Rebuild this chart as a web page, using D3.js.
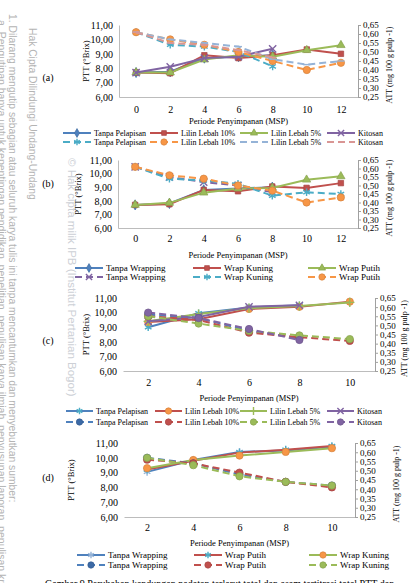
<!DOCTYPE html>
<html><head><meta charset="utf-8">
<script src="https://cdn.jsdelivr.net/npm/d3@7"></script>
<style>body{margin:0;background:#fff} svg{display:block}</style>
</head><body><svg id="c" width="411" height="583"></svg>
<script>
// ---------------- DATA ----------------
const catsA = [0, 2, 4, 6, 8, 10, 12];
const catsB = [0, 2, 4, 6, 8, 10, 12];
const catsC = [2, 4, 6, 8, 10];
const catsD = [2, 4, 6, 8, 10];
const leftTicks = [6, 7, 8, 9, 10, 11];
const rightTicks = [0.25, 0.30, 0.35, 0.40, 0.45, 0.50, 0.55, 0.60, 0.65];
const namesCoating = ["Tanpa Pelapisan", "Lilin Lebah 10%", "Lilin Lebah 5%", "Kitosan"];
const namesWrapB = ["Tanpa Wrapping", "Wrap Kuning", "Wrap Putih"];
const namesWrapD = ["Tanpa Wrapping", "Wrap Putih", "Wrap Kuning"];
const panelLabels = ["(a)", "(b)", "(c)", "(d)"];
const xTitle = "Periode Penyimpanan (MSP)";
const yTitleLeft = "PTT (°Brix)";
const yTitleRight = "ATT (mg 100 g pulp -1)";

// (a) PTT (left axis) and ATT (right axis)
const pttA_tanpa   = [7.7, 7.75, 8.7, 8.8, 8.9, null, null];
const pttA_lilin10 = [7.7, 7.65, 8.9, 8.7, 8.9, 9.3, 9.0];
const pttA_lilin5  = [7.7, 7.7, 8.6, 8.9, 8.8, 9.25, 9.6];
const pttA_kitosan = [7.7, 8.1, 8.7, 8.8, 9.35, null, null];
const attA_tanpa   = [0.61, 0.54, 0.53, 0.50, 0.42, null, null];
const attA_lilin10 = [0.61, 0.57, 0.54, 0.50, 0.45, 0.40, 0.44];
const attA_lilin5  = [0.61, 0.57, 0.55, 0.53, 0.46, 0.43, 0.45];
const attA_kitosan = [0.61, 0.55, 0.54, 0.51, 0.47, null, null];

// (b)
const pttB_tanpa  = [7.7, 7.8, 8.8, 8.9, 9.0, null, null];
const pttB_kuning = [7.7, 7.75, 8.8, 8.7, 9.05, 8.95, 9.3];
const pttB_putih  = [7.7, 7.85, 8.6, 8.9, 8.95, 9.55, 9.8];
const attB_tanpa  = [0.61, 0.55, 0.52, 0.50, 0.46, null, null];
const attB_kuning = [0.61, 0.54, 0.53, 0.51, 0.44, 0.46, 0.45];
const attB_putih  = [0.61, 0.56, 0.54, 0.50, 0.47, 0.40, 0.43];

// (c)
const pttC_tanpa   = [9.0, 9.95, 10.35, 10.5, null];
const pttC_lilin10 = [9.35, 9.55, 10.25, 10.4, 10.75];
const pttC_lilin5  = [9.4, 9.9, 10.3, 10.45, 10.7];
const pttC_kitosan = [9.4, 9.7, 10.4, 10.5, null];
const attC_tanpa   = [0.56, 0.54, 0.47, 0.43, null];
const attC_lilin10 = [0.55, 0.53, 0.46, 0.435, 0.415];
const attC_lilin5  = [0.55, 0.51, 0.47, 0.445, 0.425];
const attC_kitosan = [0.57, 0.54, 0.48, 0.42, null];

// (d)
const pttD_tanpa  = [9.05, 9.85, 10.4, 10.5, 10.75];
const pttD_putih  = [9.2, 9.8, 10.35, 10.55, 10.8];
const pttD_kuning = [9.3, 9.85, 10.15, 10.4, 10.65];
const attD_tanpa  = [0.57, 0.54, 0.48, 0.44, 0.42];
const attD_putih  = [0.56, 0.54, 0.49, 0.44, 0.41];
const attD_kuning = [0.57, 0.53, 0.47, 0.44, 0.42];

// ---------------- STYLE ----------------
const C = {blue:"#4F81BD", red:"#C0504D", green:"#9BBB59", purple:"#8064A2",
           teal:"#4BACC6", orange:"#F79646", lblue:"#95B3D7", pink:"#D99694", dblue:"#3C6AA6"};
const SERIF = "'Liberation Serif','Times New Roman',serif";
const fmt = d => d3.format(".2f")(d).replace(".", ",");

const panels = [
  {label: panelLabels[0], labelX: 48, labelY: 77, cats: catsA,
   left: 119, right: 358, top: 25, bottom: 97, rTop: 25, leftLine: true, rFont: 9,
   xLabY: 109, titleY: 121, yTitleX: 86, rTitleX: 390, legY: [133, 142], legX: [63, 150, 240, 327], legFont: 8, lineLen: 28,
   series: [
    {name: namesCoating[0], v: pttA_tanpa, ax: "L", color: C.blue, mk: "diamond", mc: C.blue},
    {name: namesCoating[1], v: pttA_lilin10, ax: "L", color: C.red, mk: "square", mc: C.red},
    {name: namesCoating[2], v: pttA_lilin5, ax: "L", color: C.green, mk: "triangle", mc: C.green},
    {name: namesCoating[3], v: pttA_kitosan, ax: "L", color: C.purple, mk: "x", mc: C.purple},
    {name: namesCoating[0], v: attA_tanpa, ax: "R", color: C.teal, mk: "star", mc: C.teal, dash: true},
    {name: namesCoating[1], v: attA_lilin10, ax: "R", color: C.orange, mk: "circle", mc: C.orange, dash: true},
    {name: namesCoating[2], v: attA_lilin5, ax: "R", color: C.lblue, mk: "dash", mc: C.lblue, dash: true},
    {name: namesCoating[3], v: attA_kitosan, ax: "R", color: C.pink, mk: "dash", mc: C.pink, dash: true}
   ]},
  {label: panelLabels[1], labelX: 48, labelY: 183, cats: catsB,
   left: 118, right: 358, top: 160, bottom: 228, rTop: 160, leftLine: true, rFont: 9,
   xLabY: 238, titleY: 255, yTitleX: 78, rTitleX: 390, legY: [268, 277], legX: [75, 193, 308], legFont: 9, lineLen: 28,
   series: [
    {name: namesWrapB[0], v: pttB_tanpa, ax: "L", color: C.blue, mk: "diamond", mc: C.blue},
    {name: namesWrapB[1], v: pttB_kuning, ax: "L", color: C.red, mk: "square", mc: C.red},
    {name: namesWrapB[2], v: pttB_putih, ax: "L", color: C.green, mk: "triangle", mc: C.green},
    {name: namesWrapB[0], v: attB_tanpa, ax: "R", color: C.purple, mk: "x", mc: C.purple, dash: true},
    {name: namesWrapB[1], v: attB_kuning, ax: "R", color: C.teal, mk: "star", mc: C.teal, dash: true},
    {name: namesWrapB[2], v: attB_putih, ax: "R", color: C.orange, mk: "circle", mc: C.orange, dash: true}
   ]},
  {label: panelLabels[2], labelX: 48, labelY: 340, cats: catsC,
   left: 123, right: 375, top: 298, bottom: 371, rTop: 298, leftLine: false, rFont: 9,
   xLabY: 382, titleY: 398, yTitleX: 86, rTitleX: 405, legY: [411, 422], legX: [66, 155, 240, 327], legFont: 8, lineLen: 27,
   series: [
    {name: namesCoating[0], v: pttC_tanpa, ax: "L", color: C.blue, mk: "star", mc: C.teal},
    {name: namesCoating[1], v: pttC_lilin10, ax: "L", color: C.red, mk: "circle", mc: C.orange},
    {name: namesCoating[2], v: pttC_lilin5, ax: "L", color: C.green, mk: "plus", mc: C.green},
    {name: namesCoating[3], v: pttC_kitosan, ax: "L", color: C.purple, mk: "x", mc: C.purple},
    {name: namesCoating[0], v: attC_tanpa, ax: "R", color: C.blue, mk: "circle", mc: C.dblue, dash: true},
    {name: namesCoating[1], v: attC_lilin10, ax: "R", color: C.red, mk: "circle", mc: C.red, dash: true},
    {name: namesCoating[2], v: attC_lilin5, ax: "R", color: C.green, mk: "circle", mc: C.green, dash: true},
    {name: namesCoating[3], v: attC_kitosan, ax: "R", color: C.purple, mk: "circle", mc: C.purple, dash: true}
   ]},
  {label: panelLabels[3], labelX: 48, labelY: 477, cats: catsD,
   left: 124, right: 355, top: 443, bottom: 517, rTop: 443, leftLine: false, rFont: 9,
   xLabY: 527, titleY: 543, yTitleX: 71, rTitleX: 397, legY: [555, 565], legX: [77, 194, 309], legFont: 9, lineLen: 28,
   series: [
    {name: namesWrapD[0], v: pttD_tanpa, ax: "L", color: C.blue, mk: "star", mc: C.lblue},
    {name: namesWrapD[1], v: pttD_putih, ax: "L", color: C.red, mk: "star", mc: C.teal},
    {name: namesWrapD[2], v: pttD_kuning, ax: "L", color: C.green, mk: "circle", mc: C.orange},
    {name: namesWrapD[0], v: attD_tanpa, ax: "R", color: C.blue, mk: "circle", mc: C.dblue, dash: true},
    {name: namesWrapD[1], v: attD_putih, ax: "R", color: C.red, mk: "circle", mc: C.red, dash: true},
    {name: namesWrapD[2], v: attD_kuning, ax: "R", color: C.green, mk: "circle", mc: C.green, dash: true}
   ]}
];

const svg = d3.select("#c");
svg.append("rect").attr("width", 411).attr("height", 583).attr("fill", "#fff");

// ---------------- WATERMARK ----------------
const wm = svg.append("g").attr("font-family", "'Liberation Sans',Arial,sans-serif").attr("fill", "#b4b4b4");
wm.append("text").attr("transform", "translate(-2,20) rotate(90)").attr("font-size", 10.5)
  .text("a. Pengutipan hanya untuk kepentingan pendidikan, penelitian, penulisan karya ilmiah, penyusunan laporan, penulisan kritik");
wm.append("text").attr("transform", "translate(9,14) rotate(90)").attr("font-size", 10.3)
  .text("1. Dilarang mengutip sebagian atau seluruh karya tulis ini tanpa mencantumkan dan menyebutkan sumber:");
wm.append("text").attr("transform", "translate(29,28) rotate(90)").attr("font-size", 10.3)
  .text("Hak Cipta Dilindungi Undang-Undang");
wm.append("text").attr("transform", "translate(68,158) rotate(90)").attr("font-size", 11.5).attr("fill", "#cdd0d6")
  .text("© Hak cipta milik IPB (Institut Pertanian Bogor)");

// ---------------- MARKERS ----------------
function markerPath(type, k) {
  const s = d3.symbol();
  switch (type) {
    case "diamond": return s.type(d3.symbolDiamond).size(30 * k)();
    case "square": return s.type(d3.symbolSquare).size(30 * k)();
    case "triangle": return s.type(d3.symbolTriangle).size(30 * k)();
    case "circle": return s.type(d3.symbolCircle).size(42 * k)();
    case "x": return s.type(d3.symbolX).size(36 * k)();
    case "star": return s.type(d3.symbolAsterisk).size(40 * k)();
    case "plus": return s.type(d3.symbolPlus).size(30 * k)();
    case "dash": return `M${-3.5 * Math.sqrt(k)},0H${3.5 * Math.sqrt(k)}`;
  }
}
const strokeMarkers = new Set(["x", "star", "plus", "dash"]);
function drawMarker(g, type, color, cx, cy, k = 1) {
  const p = g.append("path").attr("d", markerPath(type, k)).attr("transform", `translate(${cx},${cy})`);
  if (strokeMarkers.has(type)) p.attr("fill", "none").attr("stroke", color).attr("stroke-width", 1.4);
  else p.attr("fill", color).attr("stroke", d3.color(color).darker(0.4)).attr("stroke-width", 0.7);
}

// ---------------- PANELS ----------------
panels.forEach(P => {
  const g = svg.append("g").attr("font-family", SERIF).attr("fill", "#000");
  const x = d3.scalePoint().domain(P.cats).range([P.left, P.right]).padding(0.5);
  const yL = d3.scaleLinear().domain([6, 11]).range([P.bottom, P.top]);
  const yR = d3.scaleLinear().domain([0.25, 0.65]).range([P.bottom, P.rTop]);

  // bottom axis
  const xa = g.append("g").attr("transform", `translate(0,${P.bottom})`)
    .call(d3.axisBottom(x).tickSize(0));
  xa.select(".domain").attr("stroke", "#bcbcbc").attr("stroke-width", 1);
  xa.selectAll("text").attr("y", P.xLabY - P.bottom).attr("dy", "0.35em")
    .attr("font-family", SERIF).attr("font-size", 10).attr("fill", "#000");

  // left axis
  const la = g.append("g").attr("transform", `translate(${P.left},0)`)
    .call(d3.axisLeft(yL).tickValues(leftTicks).tickFormat(fmt).tickSize(0).tickPadding(6));
  if (P.leftLine) la.select(".domain").attr("stroke", "#bcbcbc");
  else la.select(".domain").remove();
  la.selectAll("text").attr("font-family", SERIF).attr("font-size", 10).attr("fill", "#000");

  // right axis
  const ra = g.append("g").attr("transform", `translate(${P.right},0)`)
    .call(d3.axisRight(yR).tickValues(rightTicks).tickFormat(fmt).tickSize(3).tickPadding(2));
  ra.select(".domain").attr("stroke", "#a0a0a0");
  ra.selectAll("line").attr("stroke", "#a0a0a0");
  ra.selectAll("text").attr("font-family", SERIF).attr("font-size", P.rFont).attr("fill", "#000");

  // titles
  g.append("text").attr("x", (P.left + P.right) / 2).attr("y", P.titleY).attr("dy", "0.35em")
    .attr("text-anchor", "middle").attr("font-size", 8.5).text(xTitle);
  g.append("text").attr("transform", `translate(${P.yTitleX},${(P.top + P.bottom) / 2}) rotate(-90)`)
    .attr("text-anchor", "middle").attr("dy", "0.35em").attr("font-size", 8.5).text(yTitleLeft);
  g.append("text").attr("transform", `translate(${P.rTitleX},${(P.rTop + P.bottom) / 2 + 4}) rotate(-90)`)
    .attr("text-anchor", "middle").attr("dy", "0.3em").attr("font-size", 8).text(yTitleRight);
  g.append("text").attr("x", P.labelX).attr("y", P.labelY).attr("dy", "0.35em")
    .attr("text-anchor", "middle").attr("font-size", 10).text(P.label);

  // series
  P.series.forEach(s => {
    const sc = s.ax === "L" ? yL : yR;
    const pts = P.cats.map((c, i) => ({c, v: s.v[i]})).filter(d => d.v != null);
    const line = d3.line().x(d => x(d.c)).y(d => sc(d.v));
    g.append("path").attr("d", line(pts)).attr("fill", "none").attr("stroke", s.color)
      .attr("stroke-width", 2).attr("stroke-dasharray", s.dash ? "7,4" : null);
    pts.forEach(d => drawMarker(g, s.mk, s.mc, x(d.c), sc(d.v)));
  });

  // legend
  const n = P.legX.length;
  P.series.forEach((s, i) => {
    const row = Math.floor(i / n), col = i % n;
    const lx = P.legX[col], ly = P.legY[row];
    g.append("line").attr("x1", lx).attr("x2", lx + P.lineLen).attr("y1", ly).attr("y2", ly)
      .attr("stroke", s.color).attr("stroke-width", 2).attr("stroke-dasharray", s.dash ? "7,4" : null);
    drawMarker(g, s.mk, s.mc, lx + P.lineLen / 2, ly, 0.75);
    g.append("text").attr("x", lx + P.lineLen + 3).attr("y", ly).attr("dy", "0.35em")
      .attr("font-size", P.legFont).text(s.name);
  });
});

// caption (cut at bottom edge, as in the page scan)
svg.append("text").attr("x", 45).attr("y", 587).attr("font-family", SERIF).attr("font-size", 10)
  .text("Gambar 9  Perubahan kandungan padatan terlarut total dan asam tertitrasi total PTT dan");
</script></body></html>
